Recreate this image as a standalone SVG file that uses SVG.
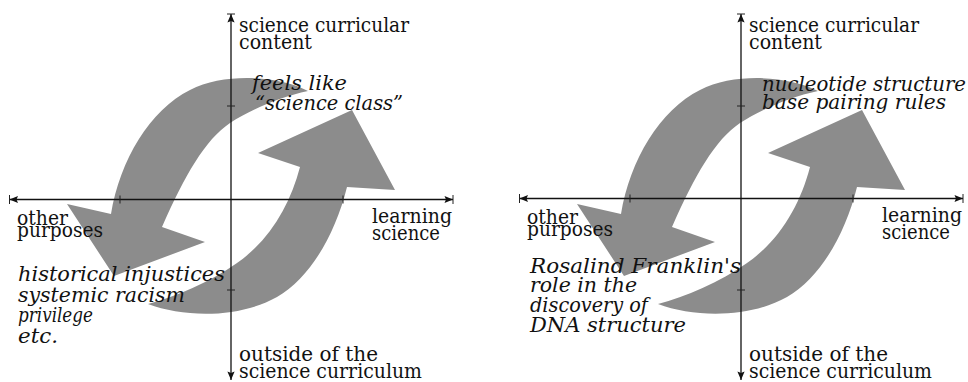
<svg xmlns="http://www.w3.org/2000/svg" xmlns:xlink="http://www.w3.org/1999/xlink" width="968" height="382" viewBox="0 0 968 382">
<style>
.bg{fill:#ffffff}
.big{fill:#8c8c8c;stroke:none}
.ax{stroke:#111;stroke-width:1.3;fill:none}
.tk{stroke:#222;stroke-width:1;fill:none}
text{font-family:'DejaVu Serif',serif;font-size:19.5px;fill:#111}
.it{font-style:italic}
</style>
<defs>
<marker id="ah" viewBox="-9 -5 10 10" refX="0" refY="0" markerWidth="10" markerHeight="10" markerUnits="userSpaceOnUse" orient="auto-start-reverse">
<path d="M0,0 L-8.5,-3.6 L-7,0 L-8.5,3.6 Z" fill="#111"/>
</marker>
<path id="arrA" d="M308,91 C280,76 225,72 190,90 C150,110 120,160 111,214 L67,204 L114,276 L205,242 L162,227 C185,175 205,140 230,123 C250,110 280,97 308,91 Z"/>
<path id="arrB" d="M148,304 C185,318 240,318 277,297 C310,278 335,235 347,187 L395,190 L352,110 L258,153 L300,167 C290,205 270,240 237,263 C210,282 175,297 148,304 Z"/>
</defs>
<rect class="bg" x="0" y="0" width="968" height="382"/>
<g id="connectors">
<g id="left-arrows" class="big">
<use xlink:href="#arrA" href="#arrA"/>
<use xlink:href="#arrB" href="#arrB"/>
</g>
<g id="right-arrows" class="big" transform="translate(510,0)">
<use xlink:href="#arrA" href="#arrA"/>
<use xlink:href="#arrB" href="#arrB"/>
</g>
<g id="left-axes">
<line class="ax" x1="9.5" y1="199.5" x2="453" y2="199.5" marker-start="url(#ah)" marker-end="url(#ah)"/>
<line class="ax" x1="231" y1="14" x2="231" y2="380" marker-start="url(#ah)" marker-end="url(#ah)"/>
<line class="tk" x1="9.5" y1="195" x2="9.5" y2="204"/>
<line class="tk" x1="453" y1="195" x2="453" y2="204"/>
<line class="tk" x1="227" y1="14" x2="235" y2="14"/>
<line class="tk" x1="120" y1="195.5" x2="120" y2="203.5"/>
<line class="tk" x1="343" y1="195.5" x2="343" y2="203.5"/>
<line class="tk" x1="227" y1="106" x2="235" y2="106"/>
<line class="tk" x1="227" y1="290" x2="235" y2="290"/>
</g>
<g id="right-axes" transform="translate(510,0)">
<line class="ax" x1="9.5" y1="198.5" x2="453" y2="198.5" marker-start="url(#ah)" marker-end="url(#ah)"/>
<line class="ax" x1="231" y1="14" x2="231" y2="380" marker-start="url(#ah)" marker-end="url(#ah)"/>
<line class="tk" x1="9.5" y1="194" x2="9.5" y2="203"/>
<line class="tk" x1="453" y1="194" x2="453" y2="203"/>
<line class="tk" x1="227" y1="14" x2="235" y2="14"/>
<line class="tk" x1="120" y1="194.5" x2="120" y2="202.5"/>
<line class="tk" x1="343" y1="194.5" x2="343" y2="202.5"/>
<line class="tk" x1="227" y1="106" x2="235" y2="106"/>
<line class="tk" x1="227" y1="290" x2="235" y2="290"/>
</g>
</g>
<g id="left-top-label">
<text x="239" y="32" textLength="170" lengthAdjust="spacingAndGlyphs">science curricular</text>
<text x="239" y="49" textLength="73" lengthAdjust="spacingAndGlyphs">content</text>
</g>
<g id="left-left-label">
<text x="17" y="224.5" textLength="51" lengthAdjust="spacingAndGlyphs">other</text>
<text x="17" y="236.5" textLength="86" lengthAdjust="spacingAndGlyphs">purposes</text>
</g>
<g id="left-right-label">
<text x="372" y="222.5" textLength="80" lengthAdjust="spacingAndGlyphs">learning</text>
<text x="372" y="240" textLength="68" lengthAdjust="spacingAndGlyphs">science</text>
</g>
<g id="left-bottom-label">
<text x="239" y="361" textLength="139" lengthAdjust="spacingAndGlyphs">outside of the</text>
<text x="239" y="378" textLength="183" lengthAdjust="spacingAndGlyphs">science curriculum</text>
</g>
<g id="left-upper-note">
<text class="it" x="252" y="89.5" textLength="95" lengthAdjust="spacingAndGlyphs">feels like</text>
<text class="it" x="255" y="110" textLength="148" lengthAdjust="spacingAndGlyphs">“science class”</text>
</g>
<g id="left-lower-note">
<text class="it" x="18" y="281" textLength="207" lengthAdjust="spacingAndGlyphs">historical injustices</text>
<text class="it" x="18" y="301.5" textLength="167" lengthAdjust="spacingAndGlyphs">systemic racism</text>
<text class="it" x="18" y="322" textLength="75" lengthAdjust="spacingAndGlyphs">privilege</text>
<text class="it" x="18" y="342.5" textLength="40" lengthAdjust="spacingAndGlyphs">etc.</text>
</g>
<g id="right-top-label">
<text x="749" y="32" textLength="170" lengthAdjust="spacingAndGlyphs">science curricular</text>
<text x="749" y="49" textLength="73" lengthAdjust="spacingAndGlyphs">content</text>
</g>
<g id="right-left-label">
<text x="527" y="223.5" textLength="51" lengthAdjust="spacingAndGlyphs">other</text>
<text x="527" y="235.5" textLength="86" lengthAdjust="spacingAndGlyphs">purposes</text>
</g>
<g id="right-right-label">
<text x="882" y="221.5" textLength="80" lengthAdjust="spacingAndGlyphs">learning</text>
<text x="882" y="239" textLength="68" lengthAdjust="spacingAndGlyphs">science</text>
</g>
<g id="right-bottom-label">
<text x="749" y="361" textLength="139" lengthAdjust="spacingAndGlyphs">outside of the</text>
<text x="749" y="378" textLength="183" lengthAdjust="spacingAndGlyphs">science curriculum</text>
</g>
<g id="right-upper-note">
<text class="it" x="762" y="90.5" textLength="204" lengthAdjust="spacingAndGlyphs">nucleotide structure</text>
<text class="it" x="762" y="108.5" textLength="184" lengthAdjust="spacingAndGlyphs">base pairing rules</text>
</g>
<g id="right-lower-note">
<text class="it" x="530" y="272.5" textLength="211" lengthAdjust="spacingAndGlyphs">Rosalind Franklin's</text>
<text class="it" x="530" y="292" textLength="107" lengthAdjust="spacingAndGlyphs">role in the</text>
<text class="it" x="530" y="311.5" textLength="118" lengthAdjust="spacingAndGlyphs">discovery of</text>
<text class="it" x="530" y="331.5" textLength="156" lengthAdjust="spacingAndGlyphs">DNA structure</text>
</g>
</svg>
